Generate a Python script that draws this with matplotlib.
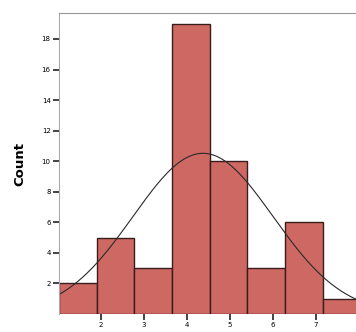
import numpy as np
import matplotlib.pyplot as plt

# histogram counts and bin edges (data units)
counts = [2, 5, 3, 19, 10, 3, 6, 1]
bin_start = 1.02
bin_width = 0.877
xticks = [2, 3, 4, 5, 6, 7]
yticks = [2, 4, 6, 8, 10, 12, 14, 16, 18]
# normal curve parameters
mean = 4.37
sd = 1.63

fig = plt.figure(figsize=(3.56, 3.32), dpi=100)
ax = fig.add_axes([59/356, 18/332, 1 - 59/356, (314-13)/332])

edges = bin_start + bin_width*np.arange(len(counts))
ax.bar(edges, counts, width=bin_width, align='edge', color='#cd6863',
       edgecolor='#3a1c1c', linewidth=1.0)

n = sum(counts)
xs = np.linspace(0.5, 8.5, 300)
ys = n*bin_width*np.exp(-0.5*((xs-mean)/sd)**2)/(sd*np.sqrt(2*np.pi))
ax.plot(xs, ys, color='#2a2a2a', linewidth=0.8)

ax.set_xlim(bin_start, 7.93)
ax.set_ylim(0, 19.7)
ax.set_xticks(xticks)
ax.set_yticks(yticks)
ax.tick_params(axis='both', length=4, width=1.2, color='#222222', labelsize=5, pad=2)
ax.spines['right'].set_visible(False)
ax.spines['bottom'].set_visible(False)
ax.spines['left'].set_color('#aaaaaa')
ax.spines['top'].set_color('#999999')
ax.spines['left'].set_linewidth(0.8)
ax.spines['top'].set_linewidth(0.8)
ax.set_ylabel('Count', fontsize=9.5, fontweight='bold', labelpad=11)

fig.savefig('out.png', dpi=100)
